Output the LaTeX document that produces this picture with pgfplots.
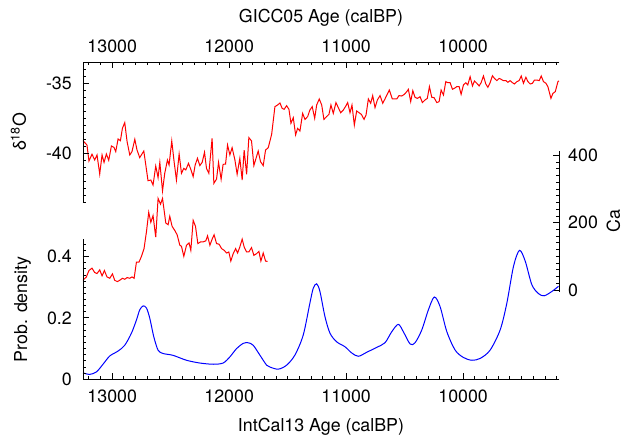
\documentclass[border=0pt]{standalone}
\usepackage{pgfplots}
\pgfplotsset{compat=1.18}
\usepackage{fontspec}
\setmainfont{TeX Gyre Heros}

\newcommand{\lblfont}{\fontsize{17.8}{20}\selectfont}

\pgfplotsset{
  panel/.style={
    scale only axis, width=476pt, clip=false,
    x dir=reverse, xmin=9180, xmax=13250,
    xtick={10000,11000,12000,13000},
    scaled x ticks=false, scaled y ticks=false,
    /pgf/number format/assume math mode=true,
    /pgf/number format/1000 sep={},
    tick label style={font=\lblfont, inner sep=0pt},
    label style={font=\lblfont},
    axis line style={draw=none},
    tick align=inside,
    major tick length=0pt, minor tick length=0pt,
  },
}
\tikzset{tk/.style={line width=0.9pt, black}}

\begin{document}
\begin{tikzpicture}

% upper panel: delta 18O against the GICC05 scale (top axis)
\begin{axis}[panel, name=top,
  at={(83pt,236pt)}, anchor=south west, height=140pt,
  xtick pos=right, xticklabel pos=right,
  ytick pos=left, yticklabel pos=left,
  ymin=-43.5, ymax=-33.5, ytick={-40,-35},
  xticklabel shift=9pt, yticklabel shift=11pt,
  xlabel={GICC05 Age (calBP)},
  xlabel style={font=\lblfont, at={(axis description cs:0.5,1)}, anchor=base, yshift=39pt},
  ylabel={δ\textsuperscript{18}O},
  ylabel style={font=\lblfont, at={(axis description cs:-0.12,0.5)}, anchor=base},
]
  \addplot[red, line width=1pt] coordinates {
    (13250,-39.12) (13216,-39.43) (13199,-40.57) (13173,-40.09) (13150,-40.50)
    (13130,-40.14) (13107,-41.50) (13087,-40.14) (13070,-40.67) (13050,-40.07)
    (13030,-40.52) (13007,-39.50) (12985,-39.60) (12970,-39.90) (12950,-39.00)
    (12930,-39.12) (12913,-38.24) (12893,-37.83) (12873,-39.19) (12850,-40.14)
    (12831,-39.90) (12807,-39.02) (12788,-39.79) (12765,-40.33) (12730,-39.86)
    (12713,-40.86) (12694,-41.98) (12670,-41.93) (12651,-42.29) (12628,-40.93)
    (12608,-41.76) (12593,-40.67) (12570,-42.71) (12551,-41.45) (12528,-40.50)
    (12514,-40.86) (12491,-39.14) (12471,-40.62) (12451,-41.93) (12428,-40.07)
    (12408,-41.45) (12388,-41.10) (12371,-41.21) (12348,-40.74) (12328,-41.17)
    (12308,-41.69) (12291,-40.86) (12271,-40.38) (12251,-40.90) (12231,-40.67)
    (12211,-39.95) (12194,-41.10) (12174,-41.45) (12146,-38.95) (12131,-42.17)
    (12108,-41.86) (12091,-40.67) (12069,-41.88) (12052,-40.81) (12031,-40.79)
    (12014,-39.43) (11994,-40.14) (11975,-39.62) (11951,-40.50) (11932,-41.52)
    (11909,-40.38) (11889,-41.93) (11872,-39.79) (11851,-41.52) (11832,-38.90)
    (11809,-39.14) (11789,-40.90) (11752,-39.86) (11732,-40.62) (11709,-40.90)
    (11689,-39.79) (11666,-39.62) (11637,-38.67) (11609,-36.69) (11586,-36.57)
    (11566,-36.43) (11547,-36.81) (11530,-36.88) (11509,-36.62) (11489,-36.88)
    (11472,-37.88) (11452,-37.48) (11432,-38.71) (11415,-38.24) (11395,-38.43)
    (11372,-37.17) (11352,-37.60) (11329,-37.40) (11310,-36.93) (11290,-36.69)
    (11269,-37.52) (11252,-36.57) (11230,-36.14) (11209,-36.57) (11190,-37.60)
    (11167,-37.40) (11147,-37.24) (11130,-36.57) (11110,-37.17) (11087,-36.40)
    (11067,-36.76) (11047,-37.12) (11024,-36.93) (11001,-36.62) (10987,-36.40)
    (10967,-37.12) (10950,-36.57) (10930,-38.00) (10910,-37.00) (10890,-37.12)
    (10870,-37.24) (10847,-37.60) (10830,-37.29) (10810,-36.14) (10790,-36.45)
    (10773,-35.90) (10753,-36.76) (10733,-36.21) (10710,-35.90) (10687,-36.45)
    (10668,-36.14) (10631,-35.50) (10605,-36.14) (10567,-36.14) (10548,-35.90)
    (10525,-35.93) (10502,-35.81) (10482,-35.62) (10468,-35.45) (10448,-36.33)
    (10430,-35.55) (10411,-36.02) (10391,-36.10) (10368,-35.98) (10348,-36.40)
    (10325,-36.21) (10306,-36.10) (10288,-35.26) (10268,-36.02) (10248,-36.05)
    (10225,-36.40) (10205,-36.33) (10188,-35.50) (10168,-35.86) (10148,-34.90)
    (10131,-34.98) (10111,-34.98) (10091,-35.45) (10074,-35.38) (10054,-35.26)
    (10034,-35.26) (10017,-35.81) (9997,-35.14) (9977,-34.98) (9960,-35.14)
    (9940,-34.55) (9920,-35.21) (9903,-34.86) (9883,-35.02) (9863,-35.21)
    (9846,-34.98) (9826,-34.50) (9806,-35.07) (9788,-35.31) (9769,-34.98)
    (9749,-34.48) (9732,-34.67) (9711,-34.83) (9692,-34.67) (9675,-34.74)
    (9655,-34.83) (9634,-34.83) (9617,-34.95) (9598,-34.83) (9578,-34.98)
    (9561,-35.07) (9540,-34.90) (9521,-34.83) (9503,-34.50) (9484,-35.02)
    (9463,-34.59) (9446,-34.90) (9426,-35.07) (9407,-35.02) (9390,-34.79)
    (9369,-34.79) (9349,-34.83) (9332,-34.50) (9313,-34.90) (9292,-35.02)
    (9275,-35.26) (9249,-36.10) (9232,-35.74) (9212,-35.62) (9189,-34.90)
    (9180,-34.85)
  };
  % tick marks, pointing into the panel
  \pgfplotsinvokeforeach{9200,9300,...,13200}{
    \draw[tk] (axis cs:#1,-33.5) -- ++(0pt,-3pt);}
  \pgfplotsinvokeforeach{10000,11000,12000,13000}{
    \draw[tk] (axis cs:#1,-33.5) -- ++(0pt,-6pt);}
  \pgfplotsinvokeforeach{-43.5,-43,...,-34}{
    \draw[tk] (axis cs:13250,#1) -- ++(3pt,0pt);}
  \pgfplotsinvokeforeach{-40,-35}{
    \draw[tk] (axis cs:13250,#1) -- ++(6pt,0pt);}
\end{axis}

% middle: Ca with its own axis on the right
\begin{axis}[panel, name=ca,
  at={(83pt,146.6pt)}, anchor=south west, height=140.1pt,
  xtick=\empty,
  ytick pos=right, yticklabel pos=right,
  ymin=-4, ymax=412, ytick={0,200,400},
  yticklabel shift=9pt,
  ylabel={Ca},
  ylabel style={font=\lblfont, at={(axis description cs:1.128,0.5)}, anchor=base},
]
  \addplot[red, line width=1pt] coordinates {
    (13250,29) (13221,39) (13199,58) (13173,65) (13150,52) (13130,49)
    (13107,60) (13087,42) (13067,58) (13045,39) (13021,35) (12998,48)
    (12979,29) (12956,25) (12936,29) (12913,35) (12893,32) (12873,37)
    (12850,35) (12831,39) (12813,35) (12793,83) (12771,83) (12750,100)
    (12728,123) (12707,174) (12688,231) (12670,201) (12651,221) (12628,157)
    (12608,272) (12587,255) (12570,272) (12542,199) (12522,194) (12508,219)
    (12488,189) (12465,177) (12445,164) (12422,133) (12408,130) (12388,100)
    (12365,133) (12343,140) (12328,118) (12308,207) (12288,189) (12268,138)
    (12245,143) (12223,143) (12200,146) (12185,161) (12165,133) (12146,151)
    (12129,164) (12108,138) (12086,136) (12065,123) (12043,118) (12022,110)
    (12003,113) (11986,86) (11966,108) (11945,123) (11928,110) (11909,128)
    (11889,151) (11872,128) (11851,113) (11832,113) (11809,126) (11789,103)
    (11766,108) (11746,115) (11729,86) (11709,110) (11689,86) (11672,85)
  };
  \pgfplotsinvokeforeach{20,40,...,380}{
    \draw[tk] (axis cs:9180,#1) -- ++(-3pt,0pt);}
  \pgfplotsinvokeforeach{0,200,400}{
    \draw[tk] (axis cs:9180,#1) -- ++(-6pt,0pt);}
\end{axis}

% lower panel: probability density against IntCal13 (bottom axis)
\begin{axis}[panel, name=low,
  at={(83pt,58.7pt)}, anchor=south west, height=140pt,
  xtick pos=left, xticklabel pos=left,
  ytick pos=left, yticklabel pos=left,
  ymin=0, ymax=0.456, ytick={0,0.2,0.4},
  yticklabel style={/pgf/number format/fixed},
  xticklabel shift=10.7pt, yticklabel shift=11pt,
  xlabel={IntCal13 Age (calBP)},
  xlabel style={font=\lblfont, at={(axis description cs:0.5,0)}, anchor=base, yshift=-52.7pt},
  ylabel={Prob. density},
  ylabel style={font=\lblfont, at={(axis description cs:-0.1176,0.5)}, anchor=base},
]
  \addplot[blue, line width=1pt, smooth] coordinates {
    (13250,0.021) (13193,0.016) (13135,0.024) (13079,0.049) (13021,0.076)
    (12950,0.092) (12893,0.111) (12836,0.150) (12793,0.193) (12765,0.226)
    (12736,0.239) (12707,0.232) (12679,0.199) (12645,0.139) (12608,0.095)
    (12565,0.084) (12480,0.078) (12365,0.062) (12251,0.053) (12137,0.049)
    (12052,0.053) (11994,0.073) (11937,0.100) (11880,0.117) (11838,0.119)
    (11795,0.111) (11738,0.079) (11680,0.046) (11652,0.040) (11581,0.033)
    (11509,0.046) (11438,0.079) (11367,0.144) (11310,0.248) (11281,0.297)
    (11252,0.311) (11224,0.286) (11181,0.204) (11138,0.150) (11081,0.122)
    (11010,0.106) (10953,0.086) (10896,0.075) (10824,0.088) (10739,0.104)
    (10668,0.119) (10610,0.155) (10554,0.179) (10511,0.155) (10453,0.115)
    (10411,0.119) (10353,0.161) (10297,0.226) (10246,0.268) (10197,0.237)
    (10139,0.155) (10068,0.095) (9997,0.071) (9925,0.062) (9854,0.068)
    (9769,0.095) (9683,0.161) (9626,0.248) (9569,0.368) (9518,0.420)
    (9469,0.385) (9412,0.308) (9355,0.279) (9307,0.272) (9241,0.286)
    (9184,0.303)
  };
  \pgfplotsinvokeforeach{9200,9300,...,13200}{
    \draw[tk] (axis cs:#1,0) -- ++(0pt,3pt);}
  \pgfplotsinvokeforeach{10000,11000,12000,13000}{
    \draw[tk] (axis cs:#1,0) -- ++(0pt,6pt);}
  \pgfplotsinvokeforeach{0.02,0.04,...,0.44}{
    \draw[tk] (axis cs:13250,#1) -- ++(3pt,0pt);}
  \pgfplotsinvokeforeach{0,0.2,0.4}{
    \draw[tk] (axis cs:13250,#1) -- ++(6pt,0pt);}
\end{axis}

% the spines that the reference shows
\draw[tk, line cap=rect]
  (top.south west) -- (top.north west) -- (top.north east);
\draw[tk, line cap=rect] (ca.north east) -- (ca.south east);
\draw[tk, line cap=rect]
  (low.north west) -- (low.south west) -- (low.south east);

\pgfresetboundingbox
\path[use as bounding box] (0,0) rectangle (623pt,438pt);
\end{tikzpicture}
\end{document}
